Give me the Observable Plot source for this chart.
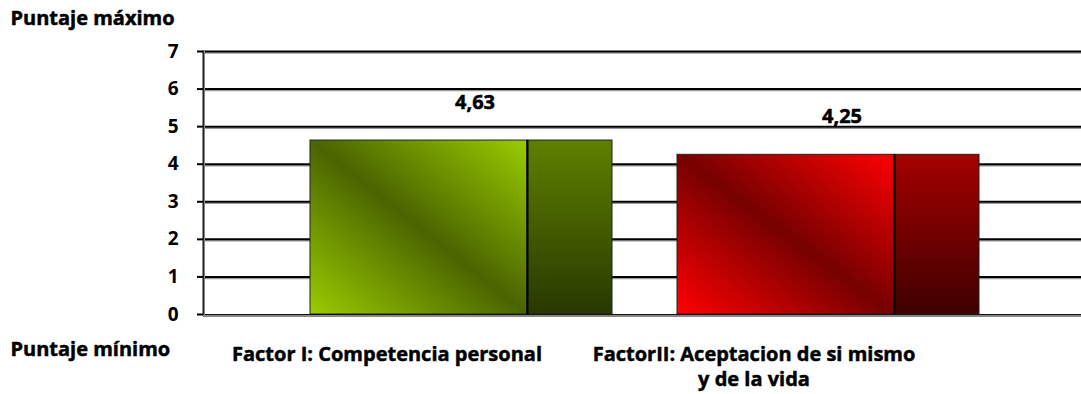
<!DOCTYPE html>
<html>
<head>
<meta charset="utf-8">
<script src="https://cdn.jsdelivr.net/npm/d3@7"></script>
<script src="https://cdn.jsdelivr.net/npm/@observablehq/plot@0.6"></script>
<style>
  html, body { margin: 0; padding: 0; background: #fff; }
  #chart svg { display: block; }
</style>
</head>
<body>
<div id="chart"></div>
<script>
const categories = ["Factor I: Competencia personal", "FactorII: Aceptacion de si mismo\ny de la vida"];
const values = [4.63, 4.25];
const valueLabels = ["4,63", "4,25"];
const yTicks = [0, 1, 2, 3, 4, 5, 6, 7];
const topLabel = "Puntaje máximo";
const bottomLabel = "Puntaje mínimo";

const data = categories.map((c, i) => ({category: c, value: values[i], label: valueLabels[i], idx: i}));
const gridTicks = yTicks.filter(t => t > 0);
const FONT = "'Open Sans', sans-serif";
const heavy = {fontWeight: "bold", fill: "#000", stroke: "#000", strokeWidth: 0.5};

const chart = Plot.plot({
  width: 1081,
  height: 394,
  marginLeft: 203,
  marginRight: 144,
  marginTop: 51,
  marginBottom: 80,
  style: {fontFamily: FONT, background: "#fff", color: "#000"},
  x: {domain: categories, padding: 0, axis: null},
  y: {domain: [0, 7], axis: null},
  marks: [
    Plot.ruleY(gridTicks, {stroke: "#9a9a9a", strokeWidth: 1.5, dy: 1.5, insetRight: -144}),
    Plot.ruleY(gridTicks, {stroke: "#000", strokeWidth: 2, insetRight: -144}),
    Plot.barY(data, {x: "category", y: "value", fill: d => `url(#front${d.idx})`, insetLeft: 107, insetRight: 43, stroke: "#222", strokeWidth: 1}),
    Plot.barY(data, {x: "category", y: "value", fill: d => `url(#side${d.idx})`, insetLeft: 324, insetRight: -42, stroke: "#222", strokeWidth: 1}),
    Plot.ruleX(data, {x: "category", y1: 0, y2: "value", dx: 140.5, stroke: "#000", strokeWidth: 2}),
    Plot.ruleY([0], {stroke: "#888", strokeWidth: 3, dy: 1, insetRight: -144}),
    Plot.ruleY([0], {stroke: "#111", strokeWidth: 1, insetRight: -144}),
    Plot.frame({anchor: "left", stroke: "#888", strokeWidth: 3}),
    Plot.frame({anchor: "left", stroke: "#222", strokeWidth: 1}),
    Plot.axisY({ticks: yTicks, label: null, tickSize: 6, tickPadding: 19, tickFormat: d => String(d), fontSize: 19, fontWeight: "bold", strokeWidth: 2}),
    Plot.text(data, {x: "category", y: "value", text: "label", dx: 88, dy: -38, fontSize: 20, ...heavy}),
    Plot.text(data, {x: "category", text: "category", frameAnchor: "bottom", lineAnchor: "top", dy: 29, fontSize: 20, lineHeight: 1.25, ...heavy}),
    Plot.text([topLabel], {text: d => d, frameAnchor: "top-left", textAnchor: "start", lineAnchor: "top", dx: -193, dy: -41, fontSize: 20, ...heavy}),
    Plot.text([bottomLabel], {text: d => d, frameAnchor: "bottom-left", textAnchor: "start", lineAnchor: "top", dx: -193, dy: 27, fontSize: 20, ...heavy})
  ]
});

// gradient definitions for the pseudo-3D bar faces
const svg = d3.select(chart);
const defs = svg.insert("defs", ":first-child");
function diag(id, edge, mid) {
  const g = defs.append("linearGradient").attr("id", id)
    .attr("x1", 0).attr("y1", 1).attr("x2", 1).attr("y2", 0);
  g.append("stop").attr("offset", 0).attr("stop-color", edge);
  g.append("stop").attr("offset", 0.5).attr("stop-color", mid);
  g.append("stop").attr("offset", 1).attr("stop-color", edge);
}
function vert(id, top, bottom) {
  const g = defs.append("linearGradient").attr("id", id)
    .attr("x1", 0).attr("y1", 0).attr("x2", 0).attr("y2", 1);
  g.append("stop").attr("offset", 0).attr("stop-color", top);
  g.append("stop").attr("offset", 1).attr("stop-color", bottom);
}
diag("front0", "#9acc00", "#4a6400");
vert("side0", "#5e8000", "#283800");
diag("front1", "#ff0000", "#770000");
vert("side1", "#a60000", "#3e0000");

document.getElementById("chart").appendChild(chart);
</script>
</body>
</html>
